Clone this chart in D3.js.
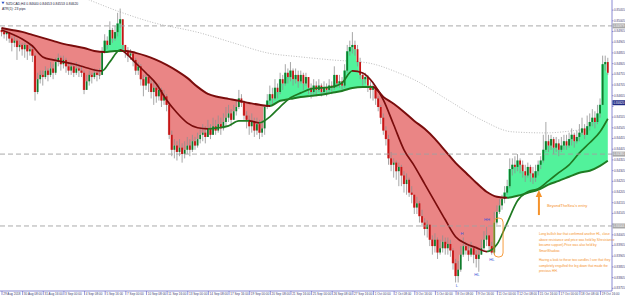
<!DOCTYPE html>
<html><head><meta charset="utf-8">
<script src="https://cdn.jsdelivr.net/npm/d3@7"></script>
<style>html,body{margin:0;padding:0;background:#fff;overflow:hidden}svg{display:block}</style>
</head><body><svg id="c" width="625" height="298"></svg>
<script>
// ---------------- DATA (prices in pips, e.g. 8495 = 0.84950) ----------------
const firstOpen = 8496;
const closes = [
8495,8494,8495,8492,8490,8491,8488,8489,8487,8489,
8486,8487,8484,8467,8473,8475,8474,8477,8475,8478,
8476,8481,8483,8480,8482,8479,8477,8479,8476,8478,
8477,8476,8468,8472,8475,8474,8476,8475,8475,8486,
8491,8489,8496,8492,8495,8499,8501,8489,8486,8484,
8485,8482,8477,8479,8473,8470,8474,8471,8467,8469,
8465,8468,8463,8465,8461,8447,8440,8442,8439,8441,
8438,8440,8442,8440,8444,8442,8445,8447,8448,8446,
8450,8447,8451,8449,8452,8450,8453,8455,8457,8454,
8458,8460,8464,8462,8456,8454,8451,8453,8449,8452,
8448,8450,8460,8463,8466,8464,8469,8467,8473,8471,
8476,8474,8477,8473,8475,8472,8475,8471,8474,8469,
8467,8470,8468,8470,8467,8469,8468,8470,8469,8475,
8471,8472,8470,8477,8486,8488,8489,8487,8481,8475,
8473,8474,8470,8468,8469,8464,8460,8455,8449,8445,
8436,8433,8434,8430,8432,8428,8424,8426,8420,8419,
8413,8415,8409,8406,8403,8405,8398,8395,8398,8392,
8394,8397,8394,8396,8393,8387,8381,8384,8391,8395,
8393,8391,8394,8391,8389,8391,8394,8398,8400,8395,
8392,8406,8411,8414,8417,8420,8423,8431,8433,8432,
8435,8433,8430,8428,8432,8429,8427,8430,8433,8435,
8440,8444,8442,8445,8441,8443,8440,8442,8444,8442,
8445,8447,8444,8446,8448,8450,8447,8451,8453,8455,
8453,8457,8461,8480,8481,8476];
const highs = [
8497,8496,8496,8495,8493,8493,8492,8491,8490,8490,
8489,8489,8489,8485,8476,8477,8477,8479,8478,8481,
8480,8483,8485,8484,8484,8483,8481,8481,8480,8481,
8480,8479,8477,8475,8477,8476,8478,8477,8478,8488,
8494,8493,8500,8497,8498,8504,8506,8501,8489,8488,
8487,8486,8483,8481,8480,8475,8476,8475,8473,8472,
8470,8471,8469,8468,8466,8462,8449,8445,8444,8445,
8443,8444,8446,8445,8447,8446,8448,8450,8452,8451,
8454,8452,8455,8454,8456,8455,8457,8460,8461,8459,
8461,8463,8468,8466,8463,8458,8456,8457,8455,8455,
8454,8454,8461,8466,8470,8469,8473,8471,8476,8475,
8480,8478,8481,8478,8478,8477,8477,8476,8476,8474,
8471,8473,8472,8473,8471,8472,8471,8473,8472,8479,
8475,8475,8474,8480,8489,8491,8495,8491,8489,8483,
8476,8476,8475,8472,8471,8470,8465,8461,8457,8451,
8447,8439,8436,8435,8434,8433,8430,8429,8427,8423,
8419,8418,8416,8412,8408,8407,8405,8400,8401,8399,
8398,8400,8399,8399,8398,8394,8389,8388,8395,8399,
8397,8396,8397,8395,8393,8394,8398,8402,8404,8400,
8397,8411,8414,8417,8419,8423,8426,8436,8436,8437,
8438,8436,8435,8433,8434,8433,8432,8433,8435,8437,
8447,8453,8447,8447,8446,8446,8445,8446,8447,8447,
8448,8450,8448,8449,8452,8455,8452,8456,8457,8459,
8458,8461,8464,8484,8484,8483];
const lows = [
8493,8492,8491,8490,8486,8488,8482,8486,8484,8483,
8482,8484,8481,8463,8466,8471,8470,8473,8472,8474,
8473,8475,8479,8477,8478,8476,8475,8475,8474,8475,
8474,8474,8466,8469,8470,8471,8473,8472,8473,8475,
8485,8487,8489,8490,8491,8493,8497,8487,8483,8481,
8482,8479,8475,8475,8470,8465,8468,8467,8464,8461,
8462,8463,8460,8461,8458,8445,8437,8436,8435,8437,
8434,8436,8438,8437,8439,8440,8441,8443,8444,8443,
8446,8445,8447,8447,8448,8447,8449,8451,8453,8451,
8454,8456,8459,8460,8454,8450,8447,8448,8446,8447,
8445,8446,8447,8459,8461,8461,8463,8464,8466,8468,
8470,8471,8472,8470,8471,8469,8471,8468,8470,8466,
8464,8466,8465,8467,8465,8466,8465,8467,8466,8468,
8469,8469,8468,8469,8476,8484,8485,8484,8479,8473,
8470,8471,8467,8464,8463,8461,8458,8452,8447,8442,
8433,8430,8427,8426,8423,8423,8420,8419,8418,8415,
8410,8410,8406,8404,8400,8399,8395,8391,8392,8389,
8391,8392,8391,8391,8390,8384,8378,8378,8383,8390,
8391,8388,8390,8387,8385,8383,8391,8393,8395,8393,
8391,8391,8405,8410,8412,8415,8419,8422,8428,8429,
8430,8429,8427,8425,8427,8425,8424,8425,8428,8431,
8434,8439,8439,8440,8438,8439,8437,8439,8440,8440,
8441,8442,8441,8443,8444,8447,8445,8447,8449,8451,
8450,8452,8455,8461,8477,8475];

// slow moving average (bar index -> value)
const slowBars = [0,4,8,12,16,20,24,28,32,36,40,44,48,52,56,60,64,68,72,76,80,84,88,92,96,100,104,108,112,116,120,124,128,132,136,140,144,148,152,156,160,164,168,172,176,180,184,188,192,196,200,204,208,212,216,220,224,228,232,235];
const slowVals = [8496.9,8496.0,8495.1,8493.7,8492.3,8490.9,8489.5,8488.5,8487.6,8486.2,8485.7,8486.2,8486.2,8485.3,8483.9,8482.0,8479.7,8476.9,8473.6,8469.4,8466.1,8464.7,8463.8,8462.9,8461.9,8461.0,8460.5,8462.9,8463.8,8464.7,8465.2,8465.7,8466.6,8467.5,8468.9,8469.4,8469.4,8464.7,8461.5,8457.7,8453.5,8449.8,8445.1,8439.5,8433.9,8429.3,8424.6,8420.4,8418.1,8417.6,8418.5,8419.9,8421.3,8423.7,8425.5,8427.4,8429.3,8430.2,8432.5,8434.9];
// fast moving average
const fastBars = [0,4,8,12,16,20,24,28,32,36,39,42,46,48,52,56,60,64,68,72,76,80,84,88,92,96,100,104,108,112,116,120,124,128,132,136,140,144,148,152,156,160,164,168,172,176,180,184,188,192,196,200,204,208,212,216,220,224,228,232,235];
const fastVals = [8496.0,8494.1,8491.8,8488.5,8483.4,8482.0,8481.1,8480.1,8478.7,8477.3,8476.9,8481.1,8486.7,8485.3,8480.6,8475.9,8470.8,8463.3,8457.3,8452.6,8450.3,8449.8,8450.3,8451.2,8453.5,8453.5,8452.6,8455.4,8460.1,8464.3,8466.6,8468.5,8468.9,8469.4,8471.3,8476.9,8475.9,8471.3,8463.3,8451.7,8440.0,8432.5,8424.1,8415.7,8407.3,8399.4,8396.1,8394.3,8392.4,8395.7,8405.9,8416.2,8420.4,8421.8,8425.5,8429.3,8433.0,8438.6,8443.3,8448.4,8454.5];
// long moving average (dotted)
const longBars = [30,34,46,58,77,90,103,116,128,142,154,160,173,186,198,211,224,235];
const longVals = [8511.9,8510.0,8504.4,8499.7,8494.6,8489.9,8485.3,8483.4,8482.0,8480.6,8475.9,8472.7,8463.3,8454.0,8448.4,8447.9,8449.3,8451.2];

const priceTicks = [8505.5,8500.5,8495.5,8490.5,8485.5,8480.5,8475.5,8470.5,8465.5,8460.5,8455.5,8450.5,8445.5,8440.5,8435.5,8430.5,8425.5,8420.5,8415.5,8410.5,8405.5,8400.5,8395.5,8390.5,8385.5,8380.5,8375.5];
const dateBars = [0,8,16,24,32,40,48,56,64,72,80,88,96,104,112,120,128,136,144,152,160,168,176,184,192,200,208,216,224,232];
const dateLabels = ["29 Aug 2018","30 Aug 08:00","31 Aug 16:00","3 Sep 00:00","4 Sep 08:00","5 Sep 16:00","7 Sep 00:00","10 Sep 08:00","11 Sep 16:00","13 Sep 00:00","14 Sep 08:00","17 Sep 16:00","19 Sep 00:00","20 Sep 08:00","21 Sep 16:00","25 Sep 00:00","26 Sep 08:00","27 Sep 16:00","1 Oct 00:00","2 Oct 08:00","3 Oct 16:00","5 Oct 00:00","8 Oct 08:00","9 Oct 16:00","11 Oct 00:00","12 Oct 08:00","15 Oct 16:00","17 Oct 00:00","18 Oct 08:00","19 Oct 16:00"];

const levelPrices = [8497.9, 8438.0, 8404.4];
const bidPrice = 8462.0;
const titleLines = ["NZDCAD,H4  0.84640 0.84653 0.84553 0.84620", "ATR(1): 23 pips"];

const swingLabels = ["H","HH","HL","HL","L"];
const swingBars = [178.5,188.2,190.1,184.3,176.5];
const swingPrices = [8401.1,8407.2,8388.5,8381.5,8376.8];
const boxBars = [190.9,194.4];
const boxPrices = [8408.1,8389.9];
const arrowBar = 208.3;
const arrowPrices = [8421.2,8409.5];
const entryText = "BeyondTheSea's entry";
const entryAt = [211.4, 8413.3];
const noteLines = ["Long bullish bar that confirmed another HL, close","above resistance and price was held by S/resistance","became support).Price was also held by","SmartShadow.","","Having a look to these two candles I see that they","completely engulfed the leg down that made the","previous HH."];
const noteAt = [208.3, 8400.2];

// ---------------- DRAWING ----------------
const W = 625, PR = 612, PB = 291;
const FONT = "'Liberation Sans', Arial, sans-serif";
const GREEN_FILL = "#52f29b", RED_FILL = "#ea8585";
const GREEN_LINE = "#1f7a22", RED_LINE = "#7a0c0c";
const ORANGE = "#f5922a", BLUE_TXT = "#3a56d8", AXIS = "#6c6cc8";

const svg = d3.select('#c');
const defs = svg.append('defs');
svg.append('rect').attr('width', W).attr('height', 298).attr('fill', '#fff');

const x = d3.scaleLinear().domain([0, closes.length - 1]).range([1.5, 607.8]);
const y = d3.scaleLinear().domain([8510 - PB / 2.14, 8510]).range([PB, 0]);

defs.append('clipPath').attr('id', 'plot').append('rect').attr('x', 0).attr('y', 0).attr('width', PR).attr('height', PB);
const plot = svg.append('g').attr('clip-path', 'url(#plot)');

const smooth = d3.line().x(d => x(d[0])).y(d => y(d[1])).curve(d3.curveMonotoneX);
const stepL = d3.line().x(d => x(d[0])).y(d => y(d[1])).curve(d3.curveStep);

// long MA dotted
plot.append('path').attr('d', smooth(longBars.map((b, i) => [b, longVals[i]])))
  .attr('fill', 'none').attr('stroke', '#a9a9a9').attr('stroke-width', 0.8).attr('stroke-dasharray', '1,1.6');

// fill between slow MA and close
const slowPts = slowBars.map((b, i) => [b, slowVals[i]]);
const slowD = smooth(slowPts);
const closeRevD = stepL(closes.map((c, i) => [i, c]).reverse());
const polyD = slowD + closeRevD.replace(/^M/, 'L') + 'Z';
const y0 = y(slowVals[0]), yN = y(slowVals[slowVals.length - 1]);
defs.append('clipPath').attr('id', 'above').append('path')
  .attr('d', `M-5,-20L-5,${y0}` + slowD.replace(/^M/, 'L') + `L${PR + 10},${yN}L${PR + 10},-20Z`);
defs.append('clipPath').attr('id', 'below').append('path')
  .attr('d', `M-5,${PB + 20}L-5,${y0}` + slowD.replace(/^M/, 'L') + `L${PR + 10},${yN}L${PR + 10},${PB + 20}Z`);
plot.append('g').attr('clip-path', 'url(#above)').append('path').attr('d', polyD).attr('fill', GREEN_FILL);
plot.append('g').attr('clip-path', 'url(#below)').append('path').attr('d', polyD).attr('fill', RED_FILL);

// candles
const opens = closes.map((c, i) => i === 0 ? firstOpen : closes[i - 1]);
const cg = plot.append('g');
closes.forEach((c, i) => {
  const o = opens[i];
  const hi = Math.max(highs[i], o, c), lo = Math.min(lows[i], o, c);
  const cx = x(i);
  cg.append('line').attr('x1', cx).attr('x2', cx).attr('y1', y(hi)).attr('y2', y(lo))
    .attr('stroke', '#8f8f8f').attr('stroke-width', 0.8);
  const top = y(Math.max(o, c)), bot = y(Math.min(o, c));
  cg.append('rect').attr('x', cx - 0.9).attr('width', 1.8)
    .attr('y', top).attr('height', Math.max(0.8, bot - top))
    .attr('fill', c > o ? '#0f7d2c' : (c < o ? '#c81414' : '#666'));
});

// slope-coloured MA lines
function slopeGradient(id, bars, vals) {
  const g = defs.append('linearGradient').attr('id', id).attr('gradientUnits', 'userSpaceOnUse')
    .attr('x1', 0).attr('x2', W).attr('y1', 0).attr('y2', 0);
  for (let i = 0; i < bars.length - 1; i++) {
    const col = vals[i + 1] >= vals[i] ? GREEN_LINE : RED_LINE;
    g.append('stop').attr('offset', x(bars[i]) / W).attr('stop-color', col);
    g.append('stop').attr('offset', x(bars[i + 1]) / W).attr('stop-color', col);
  }
}
slopeGradient('gSlow', slowBars, slowVals);
slopeGradient('gFast', fastBars, fastVals);
plot.append('path').attr('d', slowD).attr('fill', 'none').attr('stroke', 'url(#gSlow)').attr('stroke-width', 2);
plot.append('path').attr('d', smooth(fastBars.map((b, i) => [b, fastVals[i]])))
  .attr('fill', 'none').attr('stroke', 'url(#gFast)').attr('stroke-width', 1.7);

// horizontal level lines
levelPrices.forEach(p => {
  plot.append('line').attr('x1', 0).attr('x2', PR).attr('y1', y(p)).attr('y2', y(p))
    .attr('stroke', '#a0a0a0').attr('stroke-width', 0.9).attr('stroke-dasharray', '5,3');
});

// annotations
const ann = svg.append('g').attr('font-family', FONT);
swingLabels.forEach((t, i) => {
  ann.append('text').attr('x', x(swingBars[i])).attr('y', y(swingPrices[i])).attr('dy', '0.35em')
    .attr('text-anchor', 'middle').attr('font-size', 4.2).attr('fill', BLUE_TXT).text(t);
});
ann.append('rect').attr('x', x(boxBars[0])).attr('y', y(boxPrices[0]))
  .attr('width', x(boxBars[1]) - x(boxBars[0])).attr('height', y(boxPrices[1]) - y(boxPrices[0]))
  .attr('rx', 4).attr('fill', 'none').attr('stroke', ORANGE).attr('stroke-width', 0.9);
const ax = x(arrowBar), aTip = y(arrowPrices[0]), aTail = y(arrowPrices[1]);
ann.append('line').attr('x1', ax).attr('x2', ax).attr('y1', aTip + 6).attr('y2', aTail)
  .attr('stroke', ORANGE).attr('stroke-width', 2);
ann.append('path').attr('d', `M${ax},${aTip}L${ax - 3.2},${aTip + 7}L${ax + 3.2},${aTip + 7}Z`).attr('fill', ORANGE);
ann.append('text').attr('x', x(entryAt[0])).attr('y', y(entryAt[1])).attr('font-size', 4.0)
  .attr('fill', ORANGE).text(entryText);
const nx = x(noteAt[0]), ny = y(noteAt[1]);
let off = 0;
noteLines.forEach(t => {
  if (t === '') { off += 3.6; return; }
  ann.append('text').attr('x', nx).attr('y', ny + off).attr('font-size', 3.25).attr('fill', ORANGE).text(t);
  off += 5.6;
});

// title
titleLines.forEach((t, i) => {
  svg.append('text').attr('x', i === 0 ? 6 : 2).attr('y', 4.5 + i * 5).attr('font-family', FONT)
    .attr('font-size', 3.4).attr('fill', '#1c1c3c').text(t);
});
svg.append('path').attr('d', 'M1.5,1.8L4.5,1.8L3,4.2Z').attr('fill', '#2f56c9');

// axes (labels hidden where a price box sits, like the reference)
const boxYs = levelPrices.concat([bidPrice]).map(p => y(p));
const yAxis = d3.axisRight(y).tickValues(priceTicks).tickFormat(v => (v / 10000).toFixed(5)).tickSize(1.5).tickPadding(0.6);
const gy = svg.append('g').attr('transform', `translate(${PR},0)`).call(yAxis);
gy.select('.domain').remove();
gy.selectAll('line').attr('stroke', AXIS).attr('stroke-width', 0.7);
gy.selectAll('text').attr('font-size', 3.0).attr('font-family', FONT).attr('fill', '#3a3a70');
gy.selectAll('.tick').filter(v => boxYs.some(b => Math.abs(b - y(v)) < 4.5)).select('text').remove();

const xAxis = d3.axisBottom(x).tickValues(dateBars).tickFormat((d, i) => dateLabels[i]).tickSize(4);
const gx = svg.append('g').attr('transform', `translate(0,${PB})`).call(xAxis);
gx.select('.domain').remove();
gx.selectAll('line').attr('stroke', AXIS).attr('stroke-width', 0.7);
gx.selectAll('text').attr('font-size', 3.1).attr('font-family', FONT).attr('fill', '#3a3a70')
  .attr('text-anchor', 'start').attr('x', 1.2).attr('y', 2.0).attr('dy', '0.71em');

svg.append('line').attr('x1', PR).attr('x2', PR).attr('y1', 0).attr('y2', PB).attr('stroke', AXIS).attr('stroke-width', 0.8);
svg.append('line').attr('x1', 0).attr('x2', PR).attr('y1', PB).attr('y2', PB).attr('stroke', AXIS).attr('stroke-width', 0.8);

// price-scale boxes
levelPrices.forEach(p => {
  svg.append('rect').attr('x', PR + 0.5).attr('y', y(p) - 2.5).attr('width', 12.5).attr('height', 5).attr('fill', '#a8a8a8');
  svg.append('text').attr('x', PR + 1.6).attr('y', y(p)).attr('dy', '0.35em').attr('font-size', 3.0)
    .attr('font-family', FONT).attr('fill', '#fff').text((p / 10000).toFixed(5));
});
svg.append('rect').attr('x', PR + 0.5).attr('y', y(bidPrice) - 2.5).attr('width', 12.5).attr('height', 5).attr('fill', '#1f2a84');
svg.append('text').attr('x', PR + 1.6).attr('y', y(bidPrice)).attr('dy', '0.35em').attr('font-size', 3.0)
  .attr('font-family', FONT).attr('fill', '#fff').text((bidPrice / 10000).toFixed(5));
</script>
</body></html>
